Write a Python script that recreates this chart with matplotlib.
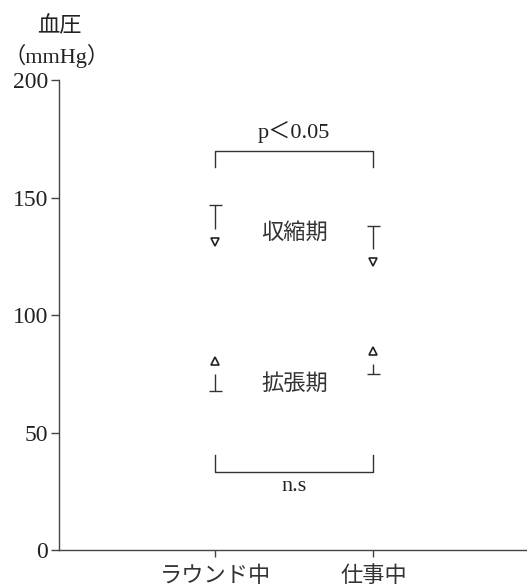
import matplotlib
matplotlib.use("Agg")
import matplotlib.pyplot as plt

# data
categories = ["ラウンド中", "仕事中"]
systolic = [131, 122.5]
systolic_sd = [16, 15.5]
diastolic = [80.5, 84.5]
diastolic_sd = [13, 9.5]

jp = ["Noto Sans CJK JP", "DejaVu Sans"]
serif = ["Liberation Serif", "Noto Sans CJK JP"]

fig = plt.figure(figsize=(5.27, 5.88), dpi=100)
ax = fig.add_axes([0.112, 0.0646, 0.888, 0.7993])

x = [1, 2]
gap = 5.5
cap = 0.042

for i in range(2):
    # systolic: marker + upward bar
    ax.plot(x[i], systolic[i], marker="v", ms=6, mfc="white", mec="#222", mew=1.2, ls="none")
    ax.vlines(x[i], systolic[i] + gap, systolic[i] + systolic_sd[i], color="#333", lw=1)
    ax.hlines(systolic[i] + systolic_sd[i], x[i] - cap, x[i] + cap, color="#333", lw=1)
    # diastolic: marker + downward bar
    ax.plot(x[i], diastolic[i], marker="^", ms=6, mfc="white", mec="#222", mew=1.2, ls="none")
    ax.vlines(x[i], diastolic[i] - gap, diastolic[i] - diastolic_sd[i], color="#333", lw=1)
    ax.hlines(diastolic[i] - diastolic_sd[i], x[i] - cap, x[i] + cap, color="#333", lw=1)

# significance brackets
ax.plot([1, 1, 2, 2], [163, 170, 170, 163], color="#333", lw=1)
ax.text(1.5, 178, "p＜0.05", ha="center", va="center", fontsize=16, family=serif, color="#222")
ax.plot([1, 1, 2, 2], [40.5, 33, 33, 40.5], color="#333", lw=1)
ax.text(1.5, 27, "n.s", ha="center", va="center", fontsize=16, family=serif, color="#222")

ax.text(1.5, 135, "収縮期", ha="center", va="center", fontsize=16, family=jp, color="#333")
ax.text(1.5, 71, "拡張期", ha="center", va="center", fontsize=16, family=jp, color="#333")

ax.set_xlim(0.013, 2.97)
ax.set_ylim(0, 200)
ax.set_xticks(x)
ax.set_xticklabels(categories, fontsize=16, family=jp, color="#333")
ax.set_yticks([0, 50, 100, 150, 200])
ax.set_yticklabels(["0", "50", "100", "150", "200"], fontsize=17, family=serif, color="#222")
ax.tick_params(axis="y", length=6, width=1, color="#444", pad=2)
ax.tick_params(axis="x", length=5, width=1, color="#444", pad=5)
for s in ["top", "right"]:
    ax.spines[s].set_visible(False)
for s in ["left", "bottom"]:
    ax.spines[s].set_color("#444")
    ax.spines[s].set_linewidth(1)

fig.text(0.112, 0.956, "血圧", ha="center", va="center", fontsize=16, family=jp, color="#222")
fig.text(0.108, 0.905, "（mmHg）", ha="center", va="center", fontsize=16, family=serif, color="#222")

fig.savefig("out.png", dpi=100)
